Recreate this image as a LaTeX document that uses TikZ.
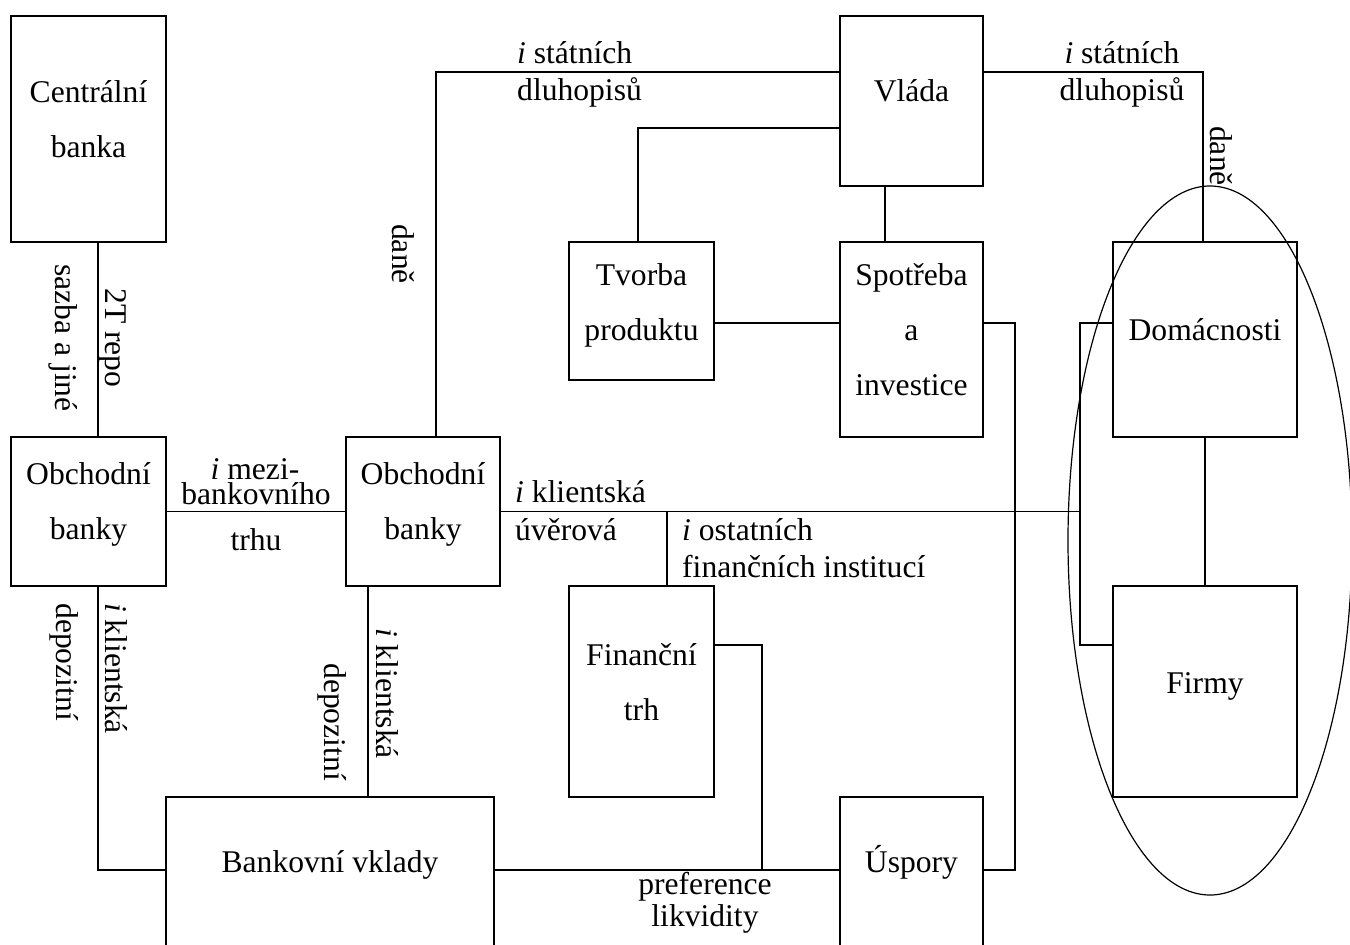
\documentclass[tikz,border=0pt]{standalone}
\usepackage{fontspec}
\setmainfont{Liberation Serif}
\usetikzlibrary{shapes.geometric}

\tikzset{
  box/.style={draw, line width=1.5pt, inner sep=0pt},
  boxtext/.style={font=\fontsize{31.6}{55}\selectfont, align=center, anchor=base, inner sep=0pt},
  lbl/.style={font=\fontsize{31.6}{37}\selectfont, inner sep=0pt},
  wire/.style={line width=1.5pt},
}

\begin{document}
\begin{tikzpicture}[x=1pt, y=-1pt]
    \useasboundingbox (0,0) rectangle (1350,945);
    \node[box, minimum width=155, minimum height=226] (cb) at (88.5,129) {};
    \node[box, minimum width=155, minimum height=149] (ob1) at (88.5,511.5) {};
    \node[box, minimum width=154, minimum height=149] (ob2) at (423,511.5) {};
    \node[box, minimum width=143, minimum height=170] (vlada) at (911.5,101) {};
    \node[box, minimum width=145, minimum height=138] (tvorba) at (641.5,311) {};
    \node[box, minimum width=143, minimum height=195] (spotreba) at (911.5,339.5) {};
    \node[box, minimum width=184, minimum height=195] (dom) at (1205,339.5) {};
    \node[box, minimum width=184, minimum height=211] (firmy) at (1205,691.5) {};
    \node[box, minimum width=145, minimum height=211] (fin) at (641.5,691.5) {};
    \node[box, minimum width=328, minimum height=150] (bv) at (330,872) {};
    \node[box, minimum width=143, minimum height=150] (usp) at (911.5,872) {};
    \node[draw, ellipse, line width=1.2pt, inner sep=0pt, minimum width=284, minimum height=709] (sektor) at (1210,540.5) {};

    \node[boxtext] (cb-t) at ([yshift=-28pt]cb.center) {Centrální\\banka};
    \node[boxtext] (ob1-t) at ([yshift=-27.5pt]ob1.center) {Obchodní\\banky};
    \node[boxtext] (ob2-t) at ([yshift=-27.5pt]ob2.center) {Obchodní\\banky};
    \node[boxtext] (vlada-t) at ([yshift=0pt]vlada.center) {Vláda};
    \node[boxtext] (tvorba-t) at ([yshift=-29pt]tvorba.center) {Tvorba\\produktu};
    \node[boxtext] (spotreba-t) at ([yshift=-55.5pt]spotreba.center) {Spotřeba\\a\\investice};
    \node[boxtext] (dom-t) at ([yshift=-0.5pt]dom.center) {Domácnosti};
    \node[boxtext] (firmy-t) at ([yshift=-1.5pt]firmy.center) {Firmy};
    \node[boxtext] (fin-t) at ([yshift=-28.5pt]fin.center) {Finanční\\trh};
    \node[boxtext] (bv-t) at (bv.center) {Bankovní vklady};
    \node[boxtext] (usp-t) at (usp.center) {Úspory};

    \coordinate (xRepo) at (98,0);
    \coordinate (xDane) at (436,0);
    \coordinate (xDep) at (368,0);
    \coordinate (xTvorba) at (638,0);
    \coordinate (xVydaje) at (885,0);
    \coordinate (xDom) at (1203,0);
    \coordinate (xUspory) at (1015,0);
    \coordinate (xSektor) at (1080,0);
    \coordinate (xOfi) at (667,0);
    \coordinate (xLikv) at (762,0);
    \coordinate (yDluh) at (0,72);
    \coordinate (yVlada) at (0,128);
    \coordinate (yProd) at (0,323);
    \coordinate (yFirmy) at (0,645);
    \coordinate (yVklady) at (0,870);

    \draw[wire] (cb.south -| xRepo) -- (ob1.north -| xRepo);
    \draw[wire] (ob1.east) -- (ob2.west);
    \draw[wire] (ob2.north -| xDane) |- (vlada.west |- yDluh);
    \draw[wire] (vlada.west |- yVlada) -| (tvorba.north -| xTvorba);
    \draw[wire] (vlada.south -| xVydaje) -- (spotreba.north -| xVydaje);
    \draw[wire] (tvorba.east |- yProd) -- (spotreba.west |- yProd);
    \draw[wire] (vlada.east |- yDluh) -| (dom.north -| xDom);
    \draw[wire] (spotreba.east |- yProd) -| (xUspory |- yVklady) -- (usp.east |- yVklady);
    \draw[wire] (dom.west |- yProd) -| (xSektor |- yFirmy) -- (firmy.west |- yFirmy);
    \draw[wire] (ob2.east) -- (ob2.east -| xSektor);
    \draw[wire] (ob2.east -| xOfi) -- (fin.north -| xOfi);
    \draw[wire] (dom.south) -- (firmy.north);
    \draw[wire] (fin.east |- yFirmy) -| (xLikv |- yVklady);
    \draw[wire] (bv.east |- yVklady) -- (usp.west |- yVklady);
    \draw[wire] (ob1.south -| xRepo) |- (bv.west |- yVklady);
    \draw[wire] (ob2.south -| xDep) -- (bv.north -| xDep);

    \node[lbl, align=left, anchor=base west] (sd1) at (517,100) {\textit{i} státních\\dluhopisů};
    \node[lbl, align=center, anchor=base] (sd2) at (1122,100) {\textit{i} státních\\dluhopisů};
    \node[lbl, rotate=-90, anchor=base] (dane1) at (392,254) {daně};
    \node[lbl, rotate=-90, anchor=base] (dane2) at (1210,156) {daně};
    \node[lbl, rotate=-90, align=center, anchor=base] (repo) at (55,338) {2T repo\\[13pt]sazba a jiné};
    \node[lbl, rotate=-90, align=left, anchor=base west] (dep1) at (56,603) {\textit{i} klientská\\[13pt]depozitní};
    \node[lbl, rotate=-90, anchor=base west] (kl2) at (376,628) {\textit{i} klientská};
    \node[lbl, rotate=-90, anchor=base west] (dep2) at (324,663) {depozitní};
    \node[lbl, anchor=base] (mezi) at (255,479) {\textit{i} mezi-};
    \node[lbl, anchor=base] (bankovni) at (256,504) {bankovního};
    \node[lbl, anchor=base] (trhu) at (256,550) {trhu};
    \node[lbl, align=left, anchor=base west] (uver) at (515,540) {\textit{i} klientská\\[1pt]úvěrová};
    \node[lbl, align=left, anchor=base west] (ofi) at (682,577) {\textit{i} ostatních\\finančních institucí};
    \node[lbl, align=center, anchor=base] (pref) at (705,926) {preference\\[-5pt]likvidity};
\end{tikzpicture}
\end{document}
